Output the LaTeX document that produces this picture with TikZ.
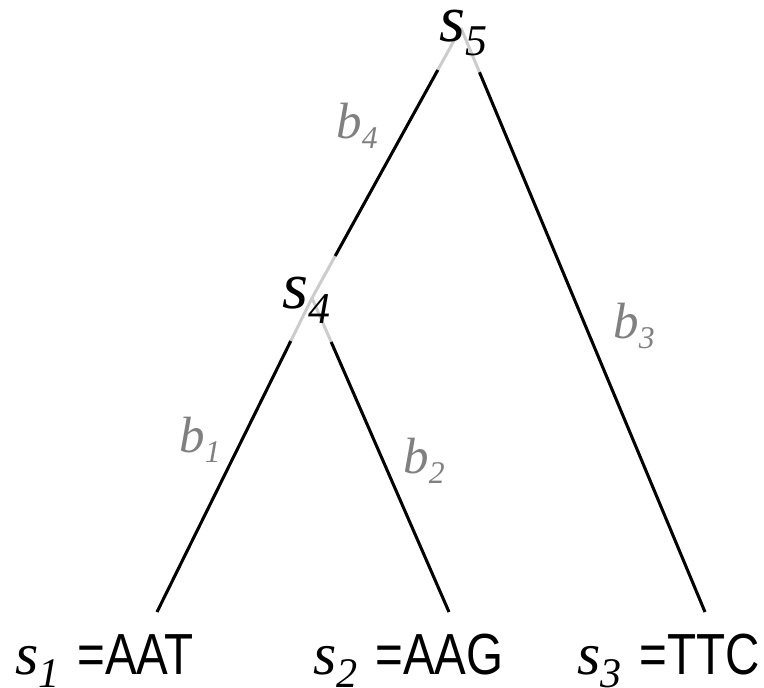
\documentclass[tikz,border=0pt]{standalone}
\usepackage{fontspec}
\setmainfont{Liberation Serif}
\newfontfamily\seqfont[FakeStretch=0.82]{Liberation Sans}
\usetikzlibrary{positioning}
\definecolor{EdgeGray}{RGB}{204,204,204}
\definecolor{LabelGray}{RGB}{128,128,128}
% italic letter with lowered italic index
\newcommand{\tlab}[5]{{\fontsize{#3}{#3}\selectfont\textit{#1}}\raisebox{-#5}{\fontsize{#4}{#4}\selectfont\textit{#2}}}
\newcommand{\seqlab}[2]{\tlab{s}{#1}{34pt}{24pt}{7pt}\hspace{10pt}{\seqfont\fontsize{33pt}{33pt}\selectfont =#2}}

\begin{document}
\begin{tikzpicture}[x=0.02cm,y=-0.02cm,
  tree/.style={line width=1.7pt,black},
  halo/.style={line width=1.7pt,EdgeGray},
  vlab/.style={inner sep=0pt},
  blab/.style={inner sep=0pt,text=LabelGray},
]
\useasboundingbox (0,0) rectangle (764,688);
\coordinate (v5) at (461,28);
\coordinate (v4) at (312,298);
\coordinate (l1) at (157,612);
\coordinate (l2) at (449,612);
\coordinate (l3) at (705,612);
\draw[halo] (v5) -- (v4);
\draw[halo] (v5) -- (l3);
\draw[halo] (v4) -- (l1);
\draw[halo] (v4) -- (l2);
\draw[tree,shorten <=0.96cm,shorten >=0.96cm] (v5) -- (v4);
\draw[tree,shorten <=0.96cm] (v5) -- (l3);
\draw[tree,shorten <=0.96cm] (v4) -- (l1);
\draw[tree,shorten <=0.96cm] (v4) -- (l2);
\node[vlab] (s5) at (463,33) {\tlab{s}{5}{38pt}{25pt}{8.5pt}};
\node[vlab] (s4) at (306,300) {\tlab{s}{4}{38pt}{25pt}{8.5pt}};
\node[blab] (b4) at (357,126) {\tlab{b}{4}{29pt}{18pt}{5.7pt}};
\node[blab] (b1) at (200,440) {\tlab{b}{1}{29pt}{18pt}{5.7pt}};
\node[blab] (b2) at (424,461) {\tlab{b}{2}{29pt}{18pt}{5.7pt}};
\node[blab] (b3) at (634,326) {\tlab{b}{3}{29pt}{18pt}{5.7pt}};
\node[vlab,anchor=base west] (q1) at (15,675) {\seqlab{1}{AAT}};
\node[vlab,anchor=base west] (q2) at (313,675) {\seqlab{2}{AAG}};
\node[vlab,anchor=base west] (q3) at (577,675) {\seqlab{3}{TTC}};
\end{tikzpicture}
\end{document}
